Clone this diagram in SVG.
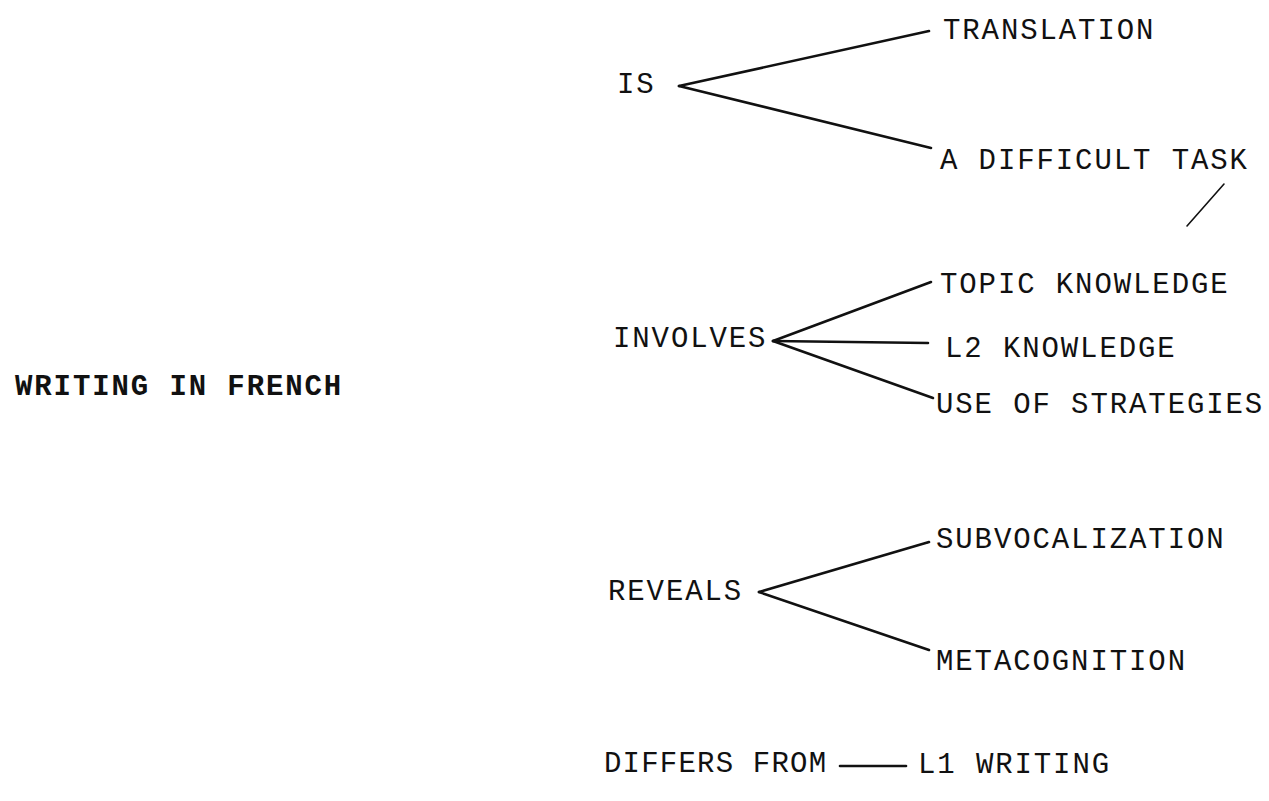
<svg xmlns="http://www.w3.org/2000/svg" width="1269" height="801" viewBox="0 0 1269 801">
<style>
text{font-family:"Liberation Mono","DejaVu Sans Mono",monospace;font-size:29px;letter-spacing:1.9px;fill:#111;}
text.b{font-weight:bold;}
.c line{stroke:#111;stroke-width:2.6;stroke-linecap:round;}
.c line.t{stroke-width:1.6;}
</style>
<rect width="1269" height="801" fill="#fff"/>
<g id="root"><text class="b" x="15" y="395">WRITING IN FRENCH</text></g>
<g id="is"><text x="617" y="93">IS</text></g>
<g id="translation"><text x="943" y="39">TRANSLATION</text></g>
<g id="difficult"><text x="940" y="169">A DIFFICULT TASK</text></g>
<g id="involves"><text x="613" y="347">INVOLVES</text></g>
<g id="topic"><text x="940" y="293">TOPIC KNOWLEDGE</text></g>
<g id="l2"><text x="945" y="357">L2 KNOWLEDGE</text></g>
<g id="strategies"><text x="936" y="413">USE OF STRATEGIES</text></g>
<g id="reveals"><text x="608" y="600">REVEALS</text></g>
<g id="subvocal"><text x="936" y="548">SUBVOCALIZATION</text></g>
<g id="meta"><text x="936" y="670">METACOGNITION</text></g>
<g id="differs"><text x="604" y="772" textLength="224" lengthAdjust="spacing">DIFFERS FROM</text></g>
<g id="l1"><text x="918" y="773">L1 WRITING</text></g>
<g class="c" id="connectors">
<line x1="679" y1="86" x2="929" y2="31"/>
<line x1="679" y1="86" x2="931" y2="148"/>
<line class="t" x1="1187" y1="226" x2="1224" y2="184"/>
<line x1="773" y1="341" x2="931" y2="282"/>
<line x1="773" y1="341" x2="928" y2="343"/>
<line x1="773" y1="341" x2="933" y2="398"/>
<line x1="759" y1="592" x2="929" y2="542"/>
<line x1="759" y1="592" x2="929" y2="650"/>
<line x1="840" y1="766" x2="906" y2="766"/>
</g>
</svg>
